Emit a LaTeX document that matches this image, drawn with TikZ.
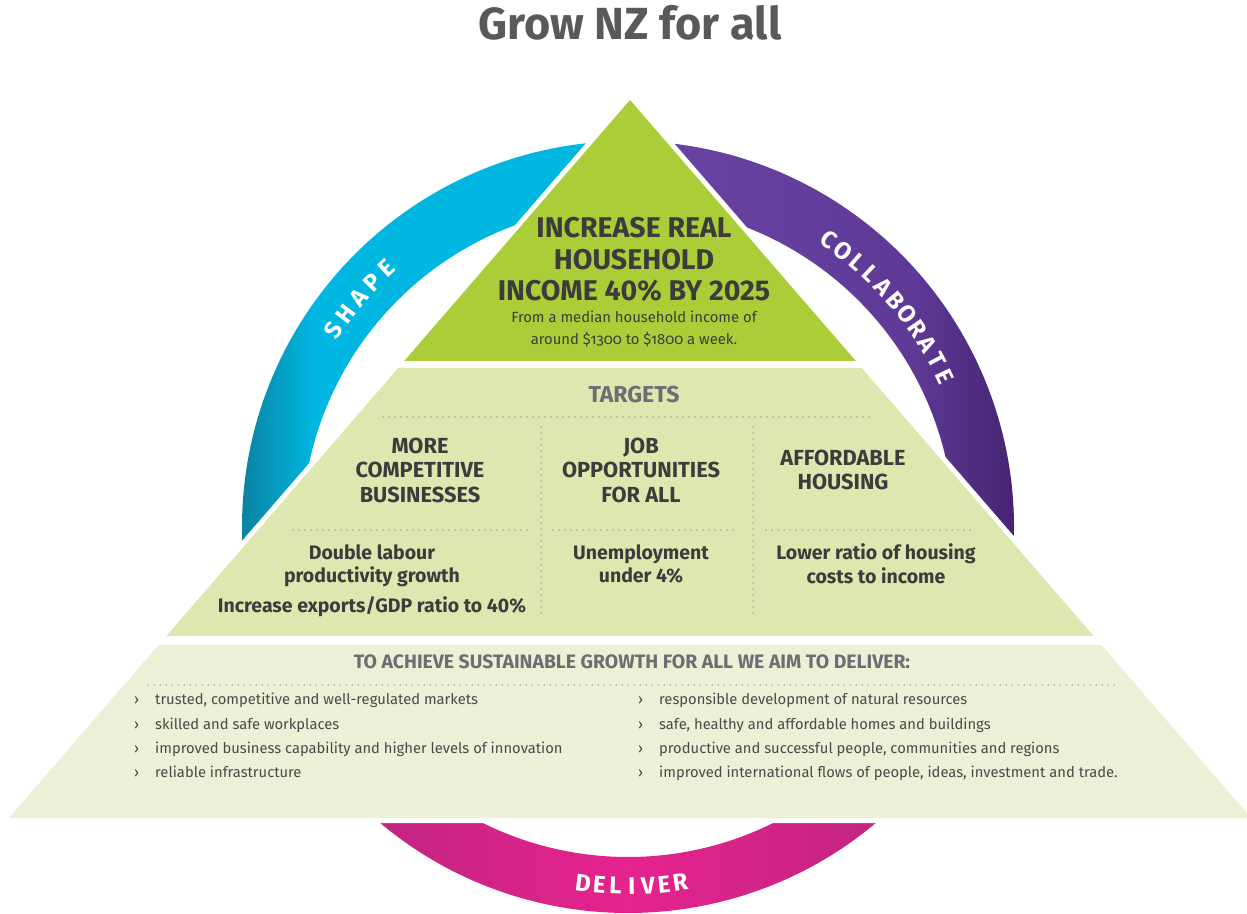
\documentclass[tikz,border=0pt]{standalone}
\usepackage{fontspec}
\setmainfont{Fira Sans}
\usetikzlibrary{positioning}

\definecolor{titlegray}{HTML}{58595B}
\definecolor{textdark}{HTML}{3C3C3C}
\definecolor{headgray}{HTML}{6D6E71}
\definecolor{itemgray}{HTML}{4A4A4A}
\definecolor{dotgray}{HTML}{8E8E8E}
\definecolor{goalgreen}{HTML}{ABCD38}
\definecolor{targetgreen}{HTML}{DCE8AF}
\definecolor{aimgreen}{HTML}{EAF1D6}
\definecolor{shapedark}{HTML}{0B7893}
\definecolor{shapecyan}{HTML}{00B7E2}
\definecolor{collablight}{HTML}{6843A2}
\definecolor{collabmid}{HTML}{5E3996}
\definecolor{collabdark}{HTML}{3F1F69}
\definecolor{deliveredge}{HTML}{BF2580}
\definecolor{delivermid}{HTML}{E6238E}

% ring shadings, the path box sits between 25bp and 75bp
\pgfdeclarehorizontalshading{shapeshade}{100bp}{color(0bp)=(shapedark); color(25bp)=(shapedark); color(36bp)=(shapecyan); color(100bp)=(shapecyan)}
\pgfdeclarehorizontalshading{collabshade}{100bp}{color(0bp)=(collablight); color(30bp)=(collablight); color(60bp)=(collabmid); color(75bp)=(collabdark); color(100bp)=(collabdark)}
\pgfdeclarehorizontalshading{delivershade}{100bp}{color(0bp)=(deliveredge); color(25bp)=(deliveredge); color(50bp)=(delivermid); color(75bp)=(deliveredge); color(100bp)=(deliveredge)}

\begin{document}
\begin{tikzpicture}[x=1pt,y=1pt,
  halo/.style={draw=white,fill=white,line width=10pt,line join=miter},
  dotline/.style={draw=dotgray,line width=1.5pt,line cap=round,dash pattern=on 0pt off 6pt},
  title/.style={anchor=base,inner sep=0,text=titlegray,font=\bfseries\fontsize{45}{45}\selectfont},
  goal/.style={anchor=base,inner sep=0,text=textdark,font=\bfseries\fontsize{28.5}{28.5}\selectfont},
  note/.style={anchor=base,inner sep=0,text=textdark,font=\fontsize{14.8}{14.8}\selectfont\addfontfeatures{Numbers=OldStyle}},
  tgthead/.style={anchor=base,inner sep=0,text=headgray,font=\bfseries\fontsize{23}{23}\selectfont},
  colhead/.style={anchor=base,inner sep=0,text=textdark,font=\bfseries\fontsize{21.8}{21.8}\selectfont},
  value/.style={anchor=base,inner sep=0,text=textdark,font=\bfseries\fontsize{19.5}{19.5}\selectfont},
  aimhead/.style={anchor=base,inner sep=0,text=headgray,font=\bfseries\fontsize{19.4}{19.4}\selectfont},
  item/.style={anchor=base west,inner sep=0,text=itemgray,font=\fontsize{14.75}{14.75}\selectfont},
  ringtxt/.style={inner sep=0,text=white,font=\bfseries\fontsize{24}{24}\selectfont}]

\useasboundingbox (0,0) rectangle (1247,913);

% the ring behind the pyramid
\shade[shading=shapeshade] ([shift={(628,386)}]90:386) arc[start angle=90,end angle=200,radius=386]
  -- ([shift={(628,382)}]200:326) arc[start angle=200,end angle=90,radius=326] -- cycle;
\shade[shading=collabshade] ([shift={(628,386)}]-20:386) arc[start angle=-20,end angle=90,radius=386]
  -- ([shift={(628,382)}]90:326) arc[start angle=90,end angle=-20,radius=326] -- cycle;
\shade[shading=delivershade] ([shift={(628,386)}]225:386) arc[start angle=225,end angle=315,radius=386]
  -- ([shift={(628,382)}]315:326) arc[start angle=315,end angle=225,radius=326] -- cycle;

% pyramid corners
\coordinate (apex) at (630,813);
\coordinate (g1) at (404.2,552);
\coordinate (g2) at (855.8,552);
\coordinate (t1) at (398.2,545);
\coordinate (t2) at (861.8,545);
\coordinate (t3) at (1093.6,277);
\coordinate (t4) at (166.4,277);
\coordinate (a1) at (158.6,268);
\coordinate (a2) at (1101.4,268);
\coordinate (a3) at (1251,95);
\coordinate (a4) at (9,95);

\path[halo] (apex) -- (g2) -- (g1) -- cycle;
\path[halo] (t1) -- (t2) -- (t3) -- (t4) -- cycle;
\path[halo] (a1) -- (a2) -- (a3) -- (a4) -- cycle;
\fill[goalgreen] (apex) -- (g2) -- (g1) -- cycle;
\fill[targetgreen] (t1) -- (t2) -- (t3) -- (t4) -- cycle;
\fill[aimgreen] (a1) -- (a2) -- (a3) -- (a4) -- cycle;

% ring labels
\foreach \ch [count=\i, evaluate=\i as \a using 146-3.3*(\i-1)] in {S,H,A,P,E}
  \node[ringtxt, rotate=\a-90] (shape\i) at ([shift={(628,384)}]\a:355) {\ch};
\foreach \ch [count=\i, evaluate=\i as \a using 55.25-2.95*(\i-1)] in {C,O,L,L,A,B,O,R,A,T,E}
  \node[ringtxt, rotate=\a-90] (collab\i) at ([shift={(628,384)}]\a:352) {\ch};
\foreach \ch [count=\i, evaluate=\i as \a using 262.8+2.6*(\i-1)] in {D,E,L,I,V,E,R}
  \node[ringtxt, rotate=\a-270] (deliver\i) at ([shift={(628,384)}]\a:357) {\ch};

\node[title] (title) at (630,873) {Grow NZ for all};

% goal
\node[goal] (goal1) at (634,675) {INCREASE REAL};
\node[goal] (goal2) at (634,643) {HOUSEHOLD};
\node[goal] (goal3) at (634,612) {INCOME 40\% BY 2025};
\node[note] (note1) at (634,590) {From a median household income of};
\node[note] (note2) at (634,568) {around \$1300 to \$1800 a week.};

% targets
\node[tgthead] (targets) at (634,510) {TARGETS};
\draw[dotline] (383,496) -- (870,496);
\draw[dotline] (541,486) -- (541,298);
\draw[dotline] (753,486) -- (753,298);

\node[colhead] (biz1) at (420,459) {MORE};
\node[colhead] (biz2) at (420,435) {COMPETITIVE};
\node[colhead] (biz3) at (420,410) {BUSINESSES};
\node[colhead] (job1) at (641,459) {JOB};
\node[colhead] (job2) at (641,435) {OPPORTUNITIES};
\node[colhead] (job3) at (641,410) {FOR ALL};
\node[colhead] (house1) at (843,447) {AFFORDABLE};
\node[colhead] (house2) at (843,423) {HOUSING};

\draw[dotline] (293,383) -- (528,383);
\draw[dotline] (553,383) -- (738,383);
\draw[dotline] (766,383) -- (972,383);

\node[value] (biz4) at (372,353) {Double labour};
\node[value] (biz5) at (372,330) {productivity growth};
\node[value] (biz6) at (372,300) {Increase exports/GDP ratio to 40\%};
\node[value] (job4) at (641,353) {Unemployment};
\node[value] (job5) at (641,330) {under 4\%};
\node[value] (house3) at (876,353) {Lower ratio of housing};
\node[value] (house4) at (876,329) {costs to income};

% what we aim to deliver
\node[aimhead] (aim) at (632,244) {TO ACHIEVE SUSTAINABLE GROWTH FOR ALL WE AIM TO DELIVER:};
\draw[dotline] (148,228) -- (1115,228);

\foreach \txt [count=\i, evaluate=\i as \y using 232.3-24.3*\i] in
  {{trusted, competitive and well-regulated markets},
   {skilled and safe workplaces},
   {improved business capability and higher levels of innovation},
   {reliable infrastructure}}
{
  \node[item] (lmark\i) at (134,\y) {›};
  \node[item] (left\i) at (155,\y) {\txt};
}
\foreach \txt [count=\i, evaluate=\i as \y using 232.3-24.3*\i] in
  {{responsible development of natural resources},
   {safe, healthy and affordable homes and buildings},
   {productive and successful people, communities and regions},
   {improved international flows of people, ideas, investment and trade.}}
{
  \node[item] (rmark\i) at (638,\y) {›};
  \node[item] (right\i) at (659,\y) {\txt};
}

\end{tikzpicture}
\end{document}
